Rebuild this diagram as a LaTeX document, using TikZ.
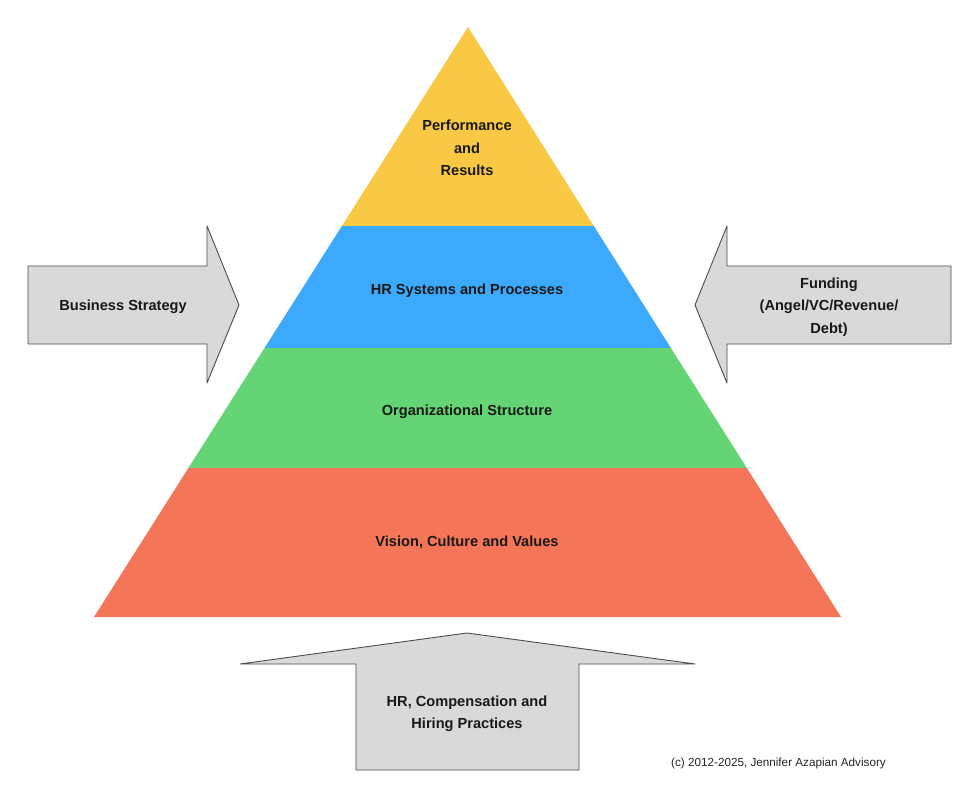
\documentclass[tikz,border=0pt]{standalone}
\usepackage{fontspec}
\setmainfont{Liberation Sans}
\begin{document}
\begin{tikzpicture}[x=1pt,y=-1pt,
  arrowshape/.style={fill=arrowgray,draw=black!70,line width=0.9pt,line join=round},
  lbl/.style={font=\bfseries\fontsize{14.6}{22.5}\selectfont,align=center,text=black!90,inner sep=0pt},
  note/.style={font=\fontsize{11.7}{13}\selectfont,text=black!85,inner sep=0pt,anchor=west}]
\definecolor{pyel}{HTML}{F9C945}
\definecolor{pblue}{HTML}{3DA9FC}
\definecolor{pgreen}{HTML}{64D474}
\definecolor{pred}{HTML}{F47558}
\definecolor{arrowgray}{HTML}{D9D9D9}
\useasboundingbox (0,0) rectangle (980,797);
\fill[white] (0,0) rectangle (980,797);
% pyramid layers
\fill[pyel] (468,27) -- (593.8,226) -- (341.9,226) -- cycle;
\fill[pblue] (341.9,226) -- (593.8,226) -- (670.9,348) -- (264.5,348) -- cycle;
\fill[pgreen] (264.5,348) -- (670.9,348) -- (746.8,468) -- (188.4,468) -- cycle;
\fill[pred] (188.4,468) -- (746.8,468) -- (841,617) -- (94,617) -- cycle;
% left arrow
\draw[arrowshape] (28,266) -- (207,266) -- (207,226) -- (239,305) -- (207,383) -- (207,344) -- (28,344) -- cycle;
% right arrow
\draw[arrowshape] (951,266) -- (727,266) -- (727,226) -- (695,305) -- (727,383) -- (727,344) -- (951,344) -- cycle;
% bottom arrow
\draw[arrowshape] (356,770) -- (356,664) -- (240,664) -- (467,633) -- (695,664) -- (579,664) -- (579,770) -- cycle;
% labels
\node[lbl] (top) at (467,148) {Performance\\and\\Results};
\node[lbl] (hr) at (467,291) {HR Systems and Processes};
\node[lbl] (org) at (467,412) {Organizational Structure};
\node[lbl] (vis) at (467,542) {Vision, Culture and Values};
\node[lbl] (bs) at (123,307) {Business Strategy};
\node[lbl] (fund) at (829,307) {Funding\\(Angel/VC/Revenue/\\Debt)};
\node[lbl] (hire) at (467,714) {HR, Compensation and\\Hiring Practices};
\node[note] (copy) at (671,763) {(c) 2012-2025, Jennifer Azapian Advisory};
\end{tikzpicture}
\end{document}
